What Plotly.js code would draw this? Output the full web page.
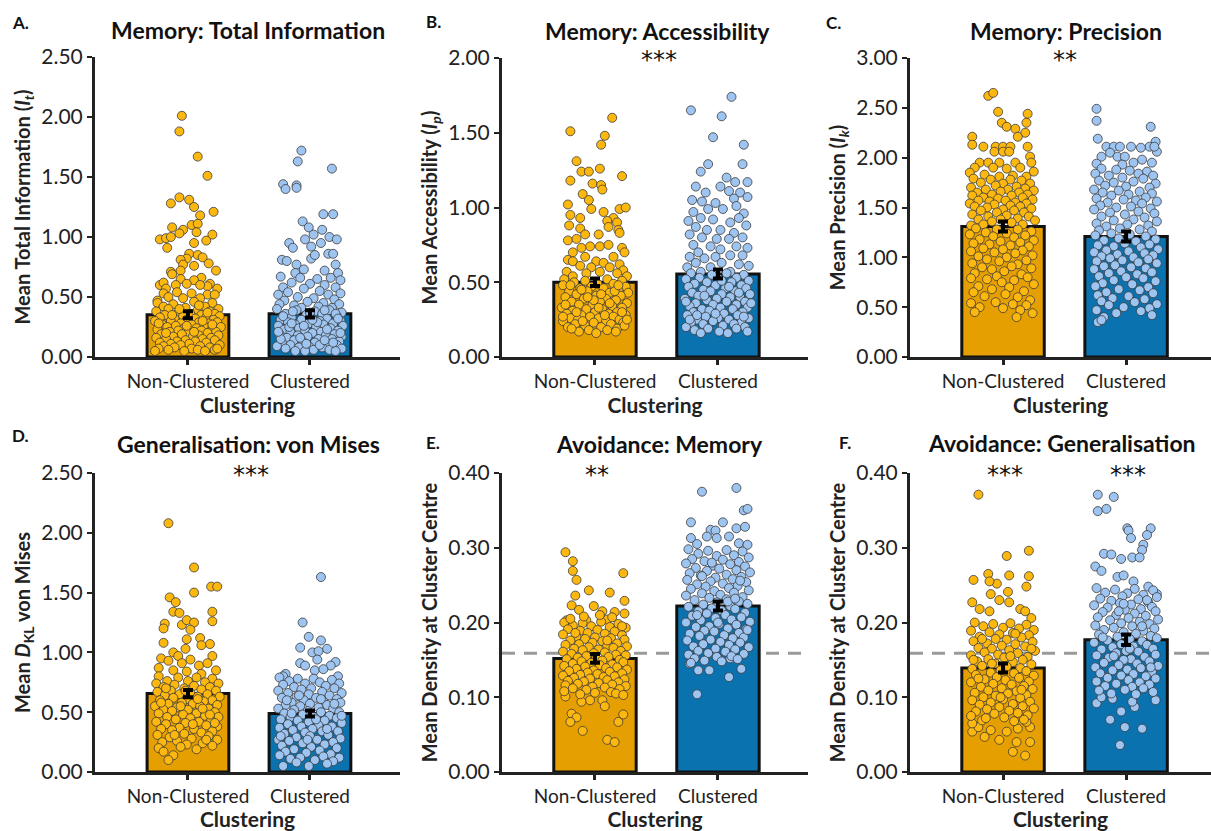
<!DOCTYPE html>
<html>
<head>
<meta charset="utf-8">
<script src="https://cdn.plot.ly/plotly-3.0.1.min.js"></script>
<style>html,body{margin:0;padding:0;background:#fff;}#chart{width:1211px;height:831px;}</style>
</head>
<body>
<div id="chart"></div>
<script>
// ---------------- DATA ----------------
const categories = ['Non-Clustered', 'Clustered'];

// bar means and standard errors per panel [Non-Clustered, Clustered]
const meansA = [0.352, 0.360], seA = [0.030, 0.030];
const meansB = [0.500, 0.555], seB = [0.025, 0.030];
const meansC = [1.310, 1.210], seC = [0.050, 0.050];
const meansD = [0.656, 0.490], seD = [0.030, 0.025];
const meansE = [0.152, 0.222], seE = [0.006, 0.006];
const meansF = [0.139, 0.177], seF = [0.006, 0.007];
const chanceLevel = 0.159;

// participant points: [jitter offset (category units), value]
const aNonPts = [[-0.05,2.01],[-0.07,1.88],[0.08,1.67],[0.16,1.51],[-0.07,1.33],[0.01,1.31],[-0.14,1.28],[0.05,1.25],[0.10,1.18],[0.21,1.21],[-0.13,1.08],[0.03,1.10],[0.08,1.11],[-0.04,1.06],[0.07,1.04],[-0.07,1.03],[0.20,1.02],[-0.23,0.98],[-0.18,0.99],[-0.14,1.00],[0.15,0.97],[-0.17,0.91],[0.05,0.95],[0.01,0.86],[0.08,0.85],[0.12,0.83],[-0.01,0.82],[-0.06,0.81],[-0.04,0.77],[0.05,0.76],[0.17,0.78],[0.23,0.72],[-0.14,0.71],[-0.06,0.72],[-0.13,0.69],[0.11,0.66],[0.05,0.64],[-0.06,0.65],[-0.23,0.60],[-0.20,0.62],[0.18,0.61],[0.16,0.59],[0.24,0.57],[-0.18,0.57],[-0.10,0.60],[-0.01,0.61],[0.10,0.60],[-0.20,0.53],[-0.09,0.54],[0.03,0.53],[0.16,0.52],[0.22,0.52],[-0.16,0.50],[-0.04,0.49],[0.10,0.49],[-0.25,0.47],
[-0.25,0.45],[-0.12,0.44],[0.05,0.46],[0.20,0.45],[-0.20,0.42],[0.14,0.42],[-0.02,0.41],[0.25,0.40],[-0.16,0.40],[0.08,0.39],[-0.26,0.38],[0.18,0.38],[-0.08,0.37],[0.02,0.36],[0.22,0.36],[-0.19,0.35],[0.11,0.35],[-0.04,0.34],[0.26,0.34],[-0.23,0.33],[0.15,0.33],[-0.11,0.32],[0.06,0.32],[-0.01,0.31],[0.21,0.31],[-0.27,0.30],[-0.14,0.30],[0.09,0.29],[0.24,0.29],[-0.06,0.28],[0.17,0.28],[-0.21,0.27],[0.03,0.27],[-0.10,0.26],[0.13,0.26],[0.27,0.25],[-0.17,0.25],[-0.03,0.24],[0.07,0.24],[0.20,0.23],[-0.25,0.23],[-0.08,0.22],[0.11,0.22],[0.23,0.21],[-0.15,0.21],[0.00,0.20],[0.16,0.20],[-0.22,0.19],[-0.05,0.19],[0.09,0.18],[0.25,0.18],[-0.12,0.17],[0.04,0.17],[0.19,0.16],[-0.26,0.16],[-0.18,0.15],[0.12,0.15],[-0.02,0.14],[0.22,0.14],[-0.09,0.13],[0.06,0.13],[-0.23,0.12],[0.15,0.12],[-0.14,0.11],[0.01,0.11],[0.26,0.10],[-0.06,0.10],[0.10,0.09],[-0.20,0.09],[0.18,0.08],[-0.11,0.08],[0.03,0.07],[-0.24,0.07],[0.22,0.06],[-0.16,0.06],[0.08,0.06],[-0.03,0.05],[0.14,0.05],[-0.27,0.05],[0.24,0.07],[-0.07,0.40],[0.12,0.30],[-0.18,0.20],[0.05,0.21],[-0.01,0.26],[0.20,0.27],[-0.13,0.35],[0.16,0.37],[-0.24,0.28],[0.09,0.43]];
const aCluPts = [[-0.07,1.72],[-0.10,1.63],[0.18,1.57],[-0.22,1.44],[-0.20,1.40],[-0.11,1.43],[-0.11,1.41],[0.11,1.19],[0.19,1.19],[-0.06,1.13],[-0.01,1.08],[0.10,1.06],[0.03,1.02],[0.16,1.00],[0.22,0.98],[-0.17,0.95],[-0.04,0.98],[-0.14,0.91],[0.01,0.92],[0.09,0.95],[-0.23,0.81],[-0.19,0.80],[-0.11,0.77],[0.01,0.82],[0.04,0.85],[0.15,0.86],[0.19,0.86],[0.21,0.77],[-0.05,0.73],[0.12,0.72],[0.23,0.70],[-0.12,0.70],
[-0.24,0.67],[-0.08,0.66],[0.06,0.65],[0.17,0.66],[0.25,0.64],[-0.15,0.62],[0.00,0.61],[0.12,0.60],[-0.22,0.58],[0.21,0.58],[-0.05,0.57],[0.08,0.55],[-0.18,0.54],[0.25,0.53],[-0.26,0.52],[0.15,0.52],[-0.10,0.50],[0.03,0.49],[0.20,0.48],[-0.21,0.47],[-0.02,0.46],[0.11,0.45],[-0.25,0.44],[0.24,0.44],[-0.13,0.43],[0.07,0.42],[0.18,0.41],[-0.07,0.41],
[-0.27,0.40],[-0.11,0.39],[0.04,0.38],[0.16,0.39],[0.26,0.37],[-0.20,0.36],[-0.03,0.35],[0.10,0.36],[0.22,0.34],[-0.15,0.33],[0.01,0.33],[0.14,0.32],[-0.24,0.31],[-0.07,0.31],[0.08,0.30],[0.25,0.30],[-0.18,0.29],[0.19,0.28],[-0.01,0.28],[-0.12,0.27],[0.11,0.27],[0.27,0.26],[-0.26,0.26],[0.05,0.25],[-0.09,0.24],[0.17,0.24],[-0.21,0.23],[0.23,0.22],[-0.04,0.22],[0.09,0.21],[-0.16,0.21],[0.02,0.20],[0.20,0.19],[-0.25,0.19],[-0.10,0.18],[0.13,0.18],[0.26,0.17],[-0.02,0.17],[-0.19,0.16],[0.07,0.15],[0.18,0.15],[-0.13,0.14],[0.24,0.13],[-0.06,0.13],[-0.23,0.12],[0.04,0.12],[0.15,0.11],[-0.16,0.10],[0.22,0.10],[-0.01,0.09],[-0.27,0.09],[0.10,0.08],[-0.09,0.08],[0.26,0.07],[-0.20,0.07],[0.03,0.06],[0.16,0.06],[-0.12,0.05],[0.21,0.05],[-0.04,0.05],[0.12,0.39],[-0.14,0.38],[0.00,0.37],[0.21,0.36],[-0.22,0.34],[0.06,0.29],[-0.05,0.26],[0.14,0.23],[-0.17,0.25],[0.25,0.20],[-0.08,0.16],[0.19,0.12],[-0.24,0.15],[0.08,0.10],[-0.15,0.28],[0.02,0.31],[0.23,0.32],[-0.26,0.21],[0.12,0.14],[-0.03,0.11]];

const bNonPts = [[0.14,1.60],[-0.20,1.51],[0.08,1.48],[0.05,1.42],[-0.15,1.31],[0.04,1.26],[-0.11,1.24],[-0.05,1.24],[0.22,1.21],[-0.20,1.18],[-0.02,1.16],[0.05,1.15],[0.06,1.12],[-0.10,1.09],[-0.05,1.05],[-0.22,1.02],[-0.03,0.99],[0.07,0.97],[0.20,0.99],[0.25,1.00],[-0.20,0.95],[-0.12,0.93],[0.15,0.93],[0.10,0.91],[0.18,0.90],[-0.21,0.88],[0.11,0.87],[-0.12,0.86],[0.19,0.85],[0.20,0.83],[0.03,0.82],[-0.08,0.82],[-0.22,0.78],[-0.15,0.79],[-0.04,0.74],[0.04,0.74],[0.11,0.75],[0.22,0.73],[-0.11,0.73],[-0.18,0.70],[0.24,0.70],[-0.08,0.67],[0.15,0.67],[-0.22,0.65],[-0.18,0.64],[0.01,0.64],[0.07,0.63],[0.20,0.62],[-0.12,0.61],[-0.03,0.60],[0.12,0.60],[0.23,0.58],[-0.23,0.57],[-0.07,0.56],[0.04,0.57],[0.18,0.56],[-0.18,0.54],[0.26,0.54],
[-0.25,0.52],[-0.08,0.51],[0.10,0.52],[0.22,0.51],[-0.17,0.50],[0.02,0.49],[0.15,0.49],[-0.26,0.48],[-0.03,0.47],[0.25,0.47],[-0.12,0.46],[0.07,0.46],[0.19,0.45],[-0.21,0.44],[-0.06,0.44],[0.12,0.43],[0.27,0.43],[-0.15,0.42],[0.01,0.41],[0.21,0.41],[-0.24,0.40],[-0.09,0.39],[0.09,0.39],[0.17,0.38],[-0.19,0.37],[0.04,0.37],[0.26,0.36],[-0.02,0.35],[-0.13,0.35],[0.14,0.34],[-0.27,0.33],[0.22,0.33],[-0.07,0.32],[0.06,0.32],[-0.18,0.31],[0.18,0.30],[0.00,0.30],[-0.23,0.29],[0.11,0.29],[0.25,0.28],[-0.11,0.28],[-0.04,0.27],[0.15,0.27],[-0.20,0.26],[0.03,0.26],[0.20,0.25],[-0.14,0.25],[-0.26,0.24],[0.09,0.24],[-0.01,0.23],[0.23,0.23],[-0.16,0.22],[0.13,0.22],[-0.08,0.21],[0.05,0.20],[-0.22,0.20],[0.18,0.19],[-0.05,0.18],[0.10,0.18],[-0.13,0.17],[0.24,0.21],[-0.19,0.19],[0.01,0.16],[0.17,0.17],[-0.10,0.24],[0.08,0.28],[-0.24,0.35],[0.16,0.44],[-0.01,0.38],[0.22,0.30],[-0.15,0.30],[0.05,0.42],[-0.20,0.48],[0.12,0.36],[-0.06,0.40],[0.26,0.25],[-0.26,0.27],[0.03,0.33],[0.19,0.48],[-0.11,0.45]];
const bCluPts = [[0.11,1.74],[-0.22,1.65],[0.03,1.61],[-0.04,1.47],[0.21,1.42],[-0.08,1.29],[0.20,1.29],[-0.14,1.24],[0.07,1.20],[0.24,1.17],[0.14,1.17],[-0.18,1.14],[-0.10,1.10],[0.02,1.14],[0.09,1.11],[0.18,1.10],[-0.21,1.05],[-0.13,1.04],[-0.02,1.03],[0.13,1.06],[0.24,1.07],[0.15,1.01],[-0.20,0.97],[-0.08,0.99],[0.04,0.99],[-0.14,0.93],[-0.04,0.92],[0.21,0.96],[-0.24,0.91],[0.10,0.90],[0.17,0.93],[-0.18,0.87],[-0.09,0.85],[0.02,0.85],[0.23,0.88],[0.13,0.83],[-0.23,0.82],[-0.13,0.80],[-0.01,0.79],[0.09,0.79],[0.20,0.80],[-0.20,0.75],[-0.06,0.74],[0.15,0.74],[0.24,0.73],[-0.16,0.70],[0.02,0.72],[-0.23,0.67],[-0.11,0.66],[-0.02,0.67],[0.10,0.68],[0.20,0.68],[-0.18,0.63],[0.03,0.63],[0.17,0.62],[0.25,0.61],[-0.25,0.60],[-0.06,0.60],[-0.14,0.57],[0.10,0.57],
[-0.22,0.56],[-0.05,0.55],[0.07,0.56],[0.21,0.55],[-0.15,0.53],[0.15,0.53],[-0.26,0.52],[0.01,0.52],[0.25,0.51],[-0.09,0.50],[0.11,0.50],[-0.19,0.49],[0.19,0.48],[-0.02,0.48],[-0.24,0.47],[0.06,0.46],[0.23,0.46],[-0.12,0.45],[0.14,0.44],[-0.06,0.44],[-0.21,0.43],[0.03,0.42],[0.26,0.42],[-0.16,0.41],[0.10,0.40],[0.18,0.40],[-0.01,0.39],[-0.27,0.39],[-0.09,0.38],[0.22,0.37],[0.07,0.37],[-0.18,0.36],[0.15,0.35],[-0.04,0.35],[-0.23,0.34],[0.02,0.33],[0.24,0.33],[-0.13,0.32],[0.12,0.32],[-0.07,0.31],[0.20,0.30],[-0.20,0.30],[0.05,0.29],[-0.25,0.28],[0.16,0.28],[-0.10,0.27],[0.00,0.26],[0.25,0.26],[-0.17,0.25],[0.09,0.25],[-0.04,0.24],[0.19,0.23],[-0.22,0.23],[0.13,0.22],[-0.12,0.22],[0.04,0.21],[-0.26,0.20],[0.22,0.20],[-0.08,0.19],[0.15,0.19],[-0.19,0.18],[0.01,0.17],[0.24,0.17],[-0.14,0.16],[0.08,0.16],[-0.23,0.25],[0.27,0.36],[-0.02,0.29],[0.17,0.43],[-0.11,0.41],[0.09,0.47],[-0.26,0.37],[0.03,0.51],[-0.17,0.28],[0.21,0.27]];

const cNonPts = [[-0.12,2.62],[-0.08,2.65],[-0.04,2.46],[0.20,2.44],[-0.01,2.35],[0.19,2.35],[0.03,2.31],[0.10,2.29],[0.18,2.25],[-0.25,2.21],[0.12,2.21],[-0.25,2.13],[-0.16,2.11],[-0.06,2.11],[0.00,2.11],[0.06,2.11],[0.20,2.11],[-0.07,2.06],[0.00,2.06],[0.05,2.06],[0.22,2.01],[0.23,1.95],[-0.19,1.95],[-0.12,1.95],[-0.03,1.95],[0.10,1.95],[-0.23,1.90],[-0.08,1.90],[0.03,1.89],[0.14,1.90],[0.25,1.86],[-0.27,1.85],[-0.15,1.83],[-0.03,1.81],[0.08,1.82],[0.19,1.81],
[-0.24,1.79],[-0.10,1.78],[0.06,1.78],[0.15,1.77],[-0.18,1.75],[0.00,1.74],[0.22,1.74],[-0.06,1.72],[0.11,1.71],[-0.26,1.70],[0.18,1.69],[-0.14,1.68],[0.04,1.68],[0.25,1.67],[-0.02,1.66],[-0.21,1.65],[0.13,1.65],[-0.09,1.63],[0.20,1.63],[-0.25,1.62],[0.07,1.62],[-0.16,1.60],[0.16,1.60],[-0.04,1.59],[0.24,1.58],[-0.20,1.57],[0.02,1.57],[-0.11,1.56],[0.10,1.55],[-0.27,1.54],[0.19,1.54],[-0.07,1.53],[0.06,1.52],[-0.23,1.51],[0.14,1.51],[-0.13,1.50],[0.23,1.49],[0.00,1.48],[-0.18,1.47],[0.09,1.47],[-0.05,1.45],[0.17,1.45],[-0.25,1.43],[0.03,1.42],[-0.12,1.41],[0.21,1.41],[0.12,1.39],[-0.20,1.38],[-0.02,1.38],[0.26,1.37],[-0.09,1.36],[0.07,1.35],[-0.16,1.33],[0.16,1.33],[-0.26,1.32],
[-0.22,1.29],[-0.05,1.28],[0.12,1.28],[0.23,1.26],[-0.14,1.25],[0.03,1.24],[-0.27,1.23],[0.18,1.22],[-0.08,1.21],[0.09,1.20],[-0.19,1.18],[0.25,1.17],[-0.02,1.16],[0.14,1.15],[-0.24,1.14],[-0.11,1.13],[0.06,1.12],[0.21,1.11],[-0.16,1.09],[0.00,1.08],[0.16,1.07],[-0.26,1.06],[-0.07,1.05],[0.10,1.04],[0.24,1.02],[-0.20,1.01],[0.03,1.00],[-0.13,0.98],[0.19,0.97],[-0.03,0.96],[-0.25,0.94],[0.12,0.93],[0.07,0.91],[-0.17,0.90],[0.23,0.89],[-0.09,0.88],[0.01,0.86],[-0.23,0.84],[0.15,0.83],[-0.05,0.81],[0.20,0.80],[-0.26,0.79],[-0.13,0.78],[0.09,0.77],[-0.01,0.75],[0.25,0.73],[-0.20,0.71],[0.05,0.70],[-0.09,0.68],[0.17,0.66],[-0.24,0.65],[0.02,0.63],[-0.15,0.61],[0.12,0.60],[0.22,0.57],[-0.06,0.55],[-0.26,0.54],[0.08,0.53],[0.19,0.52],[-0.19,0.50],[0.00,0.49],[0.14,0.47],[-0.23,0.45],[0.24,0.44],[0.11,0.40]];
const cCluPts = [[-0.24,2.49],[-0.24,2.37],[0.20,2.31],[-0.23,2.19],[0.24,2.16],[0.25,2.06],[-0.16,2.11],[-0.10,2.11],[-0.05,2.11],[0.04,2.11],[0.19,2.11],[0.23,2.11],[0.12,2.10],[-0.20,2.01],[-0.13,2.05],[-0.07,2.01],[-0.01,2.01],[0.13,1.98],[0.21,1.95],[-0.24,1.94],[-0.03,1.93],[0.06,1.95],
[-0.20,1.89],[-0.08,1.88],[0.03,1.87],[0.17,1.86],[-0.25,1.84],[0.10,1.84],[-0.14,1.82],[0.22,1.82],[-0.03,1.80],[0.14,1.79],[-0.22,1.77],[0.06,1.76],[-0.10,1.75],[0.24,1.74],[-0.17,1.72],[0.00,1.71],[0.19,1.70],[-0.26,1.68],[-0.06,1.67],[0.11,1.66],[-0.19,1.65],[0.21,1.64],[0.02,1.63],[-0.12,1.62],[0.16,1.60],[-0.24,1.59],[-0.02,1.58],[0.08,1.57],[0.25,1.56],[-0.15,1.55],[0.13,1.54],[-0.21,1.52],[0.04,1.51],[-0.08,1.50],[0.20,1.49],[-0.26,1.48],[0.10,1.46],[-0.13,1.45],[0.23,1.44],[-0.01,1.43],[-0.20,1.41],[0.15,1.40],[0.06,1.38],[-0.10,1.37],[0.25,1.36],[-0.24,1.34],[0.01,1.33],[0.18,1.32],[-0.16,1.31],[-0.05,1.29],[0.11,1.28],[-0.22,1.27],[0.21,1.26],
[-0.12,1.24],[0.03,1.23],[-0.25,1.22],[0.16,1.21],[-0.06,1.19],[0.24,1.18],[-0.18,1.17],[0.08,1.16],[-0.01,1.14],[0.19,1.13],[-0.23,1.12],[-0.10,1.11],[0.12,1.10],[0.26,1.08],[-0.16,1.07],[0.02,1.06],[-0.26,1.05],[0.15,1.04],[-0.07,1.03],[0.22,1.02],[-0.20,1.01],[0.06,1.00],[-0.13,0.99],[0.18,0.98],[-0.03,0.97],[-0.24,0.96],[0.10,0.95],[0.25,0.94],[-0.09,0.92],[-0.18,0.91],[0.04,0.90],[0.16,0.89],[-0.26,0.88],[-0.04,0.86],[0.21,0.85],[-0.14,0.84],[0.09,0.83],[-0.22,0.81],[0.00,0.80],[0.14,0.79],[-0.10,0.77],[0.24,0.76],[-0.19,0.74],[0.05,0.73],[-0.25,0.71],[0.18,0.70],[-0.06,0.68],[0.11,0.67],[-0.16,0.65],[0.22,0.64],[-0.23,0.62],[0.02,0.61],[-0.11,0.59],[0.15,0.58],[-0.20,0.56],[0.07,0.55],[0.25,0.53],[-0.14,0.52],[-0.02,0.50],[0.19,0.49],[-0.24,0.47],[0.12,0.46],[-0.08,0.44],[0.21,0.42],[-0.18,0.40],[-0.23,0.35],[-0.20,0.37]];

const dNonPts = [[-0.16,2.08],[0.05,1.71],[0.05,1.50],[0.19,1.55],[0.24,1.55],[-0.15,1.46],[-0.10,1.42],[-0.12,1.34],[-0.07,1.33],[0.20,1.34],[0.20,1.26],[-0.19,1.24],[-0.05,1.23],[-0.01,1.27],[0.05,1.25],[-0.20,1.20],[0.02,1.19],[-0.01,1.11],[0.10,1.12],[0.18,1.07],[-0.20,1.08],[0.11,1.06],[-0.02,1.03],[-0.12,1.00],[-0.22,0.95],[-0.08,0.97],[0.02,0.94],[0.20,0.97],[-0.16,0.93],[-0.05,0.91],[0.09,0.89],[0.16,0.91],[0.23,0.85],[-0.24,0.87],[-0.12,0.85],[-0.01,0.84],[0.11,0.82],
[-0.24,0.80],[-0.08,0.79],[0.07,0.79],[0.20,0.78],[-0.17,0.76],[0.00,0.76],[0.14,0.75],[-0.26,0.74],[0.25,0.74],[-0.11,0.73],[0.05,0.72],[-0.20,0.71],[0.18,0.71],[-0.03,0.70],[0.11,0.69],[-0.14,0.68],[0.23,0.68],[-0.25,0.67],[0.02,0.66],[-0.07,0.65],[0.16,0.65],[-0.19,0.64],[0.08,0.63],[0.26,0.63],[-0.12,0.62],[-0.01,0.61],[0.20,0.60],[-0.23,0.60],[0.13,0.59],[-0.05,0.58],[-0.16,0.57],[0.04,0.57],[0.24,0.56],[-0.27,0.55],[0.10,0.55],[-0.09,0.54],[0.17,0.53],[-0.20,0.52],[0.00,0.52],[-0.13,0.51],[0.22,0.50],[0.07,0.49],[-0.24,0.49],[-0.04,0.48],[0.14,0.47],[-0.17,0.46],[0.25,0.46],[0.02,0.45],[-0.10,0.44],[0.19,0.43],[-0.26,0.42],[0.09,0.42],[-0.02,0.41],[-0.18,0.40],[0.15,0.39],[0.24,0.38],[-0.07,0.37],[0.05,0.36],[-0.22,0.36],[-0.13,0.35],[0.20,0.34],[0.11,0.33],[-0.03,0.32],[-0.25,0.31],[0.17,0.30],[-0.15,0.29],[0.03,0.28],[0.24,0.27],[-0.09,0.26],[-0.21,0.25],[0.12,0.24],[-0.01,0.23],[0.20,0.22],[-0.06,0.21],[-0.24,0.20],[0.07,0.19],[-0.20,0.17],[0.15,0.27],[-0.12,0.14],[-0.16,0.10],[0.08,0.61],[-0.06,0.55],[0.18,0.48],[-0.22,0.58],[0.04,0.40],[-0.11,0.31],[0.22,0.41],[-0.02,0.68],[0.12,0.53],[-0.18,0.70]];
const dCluPts = [[0.09,1.63],[-0.06,1.25],[-0.01,1.13],[-0.08,1.04],[0.09,1.10],[0.14,1.03],[0.02,1.00],[0.07,1.01],[0.06,0.94],[-0.08,0.91],[-0.04,0.89],[0.21,0.92],[0.17,0.89],[0.04,0.85],[0.11,0.86],[-0.20,0.82],[-0.22,0.80],[0.23,0.80],
[-0.25,0.79],[-0.10,0.78],[0.03,0.78],[0.18,0.77],[-0.17,0.76],[0.08,0.75],[-0.04,0.74],[0.24,0.74],[-0.22,0.73],[0.13,0.72],[-0.13,0.71],[0.01,0.70],[0.20,0.70],[-0.07,0.69],[-0.26,0.68],[0.10,0.67],[0.26,0.66],[-0.18,0.66],[-0.01,0.65],[0.16,0.64],[-0.11,0.63],[0.05,0.62],[-0.23,0.62],[0.22,0.61],[-0.05,0.60],[0.11,0.59],[-0.15,0.58],[0.25,0.58],[0.00,0.57],[-0.20,0.56],[0.14,0.56],[-0.08,0.55],[0.07,0.54],[-0.26,0.53],[0.19,0.53],[-0.13,0.52],[-0.02,0.51],[0.24,0.50],[0.09,0.50],[-0.21,0.49],[-0.06,0.48],[0.16,0.47],[-0.16,0.46],[0.03,0.46],[0.22,0.45],[-0.24,0.44],[-0.10,0.43],[0.12,0.43],[-0.01,0.42],[0.26,0.41],[-0.18,0.40],[0.07,0.39],[-0.07,0.38],[0.18,0.38],[-0.25,0.37],[0.02,0.36],[-0.14,0.35],[0.23,0.34],[0.10,0.34],[-0.04,0.33],[-0.21,0.32],[0.15,0.31],[0.00,0.30],[-0.11,0.29],[0.25,0.28],[-0.26,0.27],[0.06,0.27],[-0.17,0.26],[0.19,0.25],[-0.06,0.24],[0.12,0.23],[-0.23,0.22],[0.01,0.21],[0.22,0.20],[-0.13,0.19],[0.08,0.18],[-0.20,0.17],[-0.03,0.16],[0.17,0.15],[-0.25,0.14],[0.11,0.13],[-0.08,0.12],[0.24,0.12],[-0.16,0.11],[0.04,0.10],[0.19,0.09],[-0.11,0.08],[0.14,0.07],[-0.22,0.05],[-0.01,0.05],[0.05,0.44],[-0.19,0.60],[0.20,0.57],[-0.09,0.64],[0.14,0.36],[-0.02,0.27],[-0.24,0.30],[0.09,0.61],[-0.15,0.49],[0.26,0.47]];

const eNonPts = [[-0.24,0.294],[-0.18,0.282],[-0.18,0.269],[-0.15,0.257],[0.23,0.266],[-0.05,0.243],[0.12,0.240],[-0.16,0.236],[0.24,0.229],[-0.19,0.223],[-0.01,0.222],[0.06,0.215],[-0.13,0.217],[0.24,0.212],[0.16,0.214],[-0.23,0.203],[-0.07,0.203],[0.10,0.204],
[-0.19,0.078],[-0.15,0.073],[-0.20,0.067],[-0.10,0.055],[0.10,0.043],[0.16,0.040],[0.19,0.067],[0.23,0.077],[0.06,0.096],[0.08,0.088],[-0.04,0.096],[-0.11,0.094],[-0.24,0.101],
[-0.25,0.200],[-0.10,0.199],[0.05,0.201],[0.19,0.198],[-0.18,0.196],[-0.03,0.195],[0.12,0.194],[0.25,0.193],[-0.22,0.191],[0.02,0.190],[-0.12,0.189],[0.16,0.188],[-0.06,0.186],[0.08,0.185],[-0.26,0.184],[0.22,0.183],[-0.15,0.181],[0.00,0.180],[0.13,0.179],[-0.08,0.178],[0.24,0.177],[-0.20,0.176],[0.06,0.175],[-0.02,0.173],[0.18,0.172],[-0.13,0.171],[-0.24,0.170],[0.10,0.169],[0.26,0.168],[-0.05,0.167],[0.15,0.166],[-0.17,0.165],[0.03,0.164],[-0.10,0.163],[0.21,0.162],[-0.26,0.161],[0.08,0.160],[-0.01,0.159],[-0.19,0.158],[0.17,0.157],[0.25,0.156],[-0.07,0.155],[0.11,0.154],[-0.14,0.153],[0.01,0.152],[-0.23,0.151],[0.20,0.150],[0.06,0.149],[-0.11,0.148],[0.23,0.147],[-0.03,0.146],[-0.18,0.145],[0.14,0.144],[0.04,0.143],[-0.25,0.142],[-0.08,0.141],[0.18,0.140],[0.09,0.139],[-0.15,0.138],[0.26,0.137],[-0.01,0.136],[-0.21,0.135],[0.12,0.134],[-0.06,0.133],[0.22,0.132],[0.02,0.131],[-0.12,0.130],[-0.26,0.129],[0.16,0.128],[0.07,0.127],[-0.17,0.126],[-0.04,0.125],[0.24,0.124],[0.10,0.123],[-0.22,0.122],[-0.09,0.121],[0.19,0.120],[0.03,0.119],[-0.14,0.118],[0.14,0.117],[-0.24,0.116],[0.25,0.115],[-0.02,0.114],[0.08,0.113],[-0.18,0.112],[0.20,0.111],[-0.07,0.110],[-0.25,0.108],[0.13,0.107],[0.00,0.106],[0.17,0.105],[-0.12,0.104],[0.23,0.103],[-0.20,0.205],[0.14,0.207],[-0.09,0.208],[0.04,0.210],[0.22,0.195],[-0.16,0.186],[0.10,0.176]];
const eCluPts = [[-0.13,0.375],[0.15,0.380],[0.21,0.350],[0.24,0.352],[-0.22,0.334],[0.04,0.334],[0.15,0.326],[-0.06,0.324],[-0.02,0.323],[0.22,0.328],[-0.09,0.315],[-0.01,0.313],[0.09,0.315],[-0.22,0.313],[-0.17,0.305],[0.17,0.306],[0.24,0.304],
[0.09,0.127],[-0.17,0.104],[0.19,0.138],[-0.07,0.136],[0.10,0.152],[-0.23,0.145],[-0.16,0.136],
[-0.24,0.298],[-0.08,0.296],[0.07,0.297],[0.20,0.295],[-0.16,0.292],[0.13,0.290],[-0.01,0.289],[0.25,0.287],[-0.21,0.285],[0.04,0.284],[-0.11,0.282],[0.17,0.281],[-0.26,0.279],[0.10,0.278],[-0.04,0.276],[0.22,0.275],[-0.18,0.273],[0.01,0.272],[0.15,0.270],[-0.09,0.269],[0.26,0.267],[-0.23,0.266],[0.07,0.264],[-0.14,0.263],[0.19,0.261],[-0.02,0.260],[0.12,0.258],[-0.25,0.257],[-0.06,0.255],[0.23,0.254],[0.04,0.252],[-0.17,0.251],[0.16,0.249],[-0.10,0.248],[0.09,0.246],[-0.22,0.245],[0.25,0.243],[-0.03,0.242],[0.13,0.240],[-0.13,0.239],[0.02,0.237],[-0.26,0.236],[0.20,0.234],[-0.07,0.233],[0.07,0.231],[-0.19,0.230],[0.17,0.228],[-0.01,0.227],[0.24,0.225],[-0.12,0.224],[0.10,0.222],[-0.24,0.221],[-0.05,0.219],[0.14,0.218],[0.03,0.216],[-0.16,0.215],[0.22,0.213],[-0.09,0.212],[0.06,0.210],[-0.21,0.209],[0.19,0.207],[-0.02,0.206],[0.11,0.204],[-0.14,0.203],[0.26,0.201],[-0.26,0.200],[0.01,0.198],[0.15,0.197],[-0.07,0.195],[-0.18,0.194],[0.08,0.192],[0.23,0.191],[-0.11,0.189],[-0.03,0.188],[0.17,0.186],[-0.23,0.185],[0.05,0.183],[-0.15,0.182],[0.21,0.180],[0.12,0.179],[-0.06,0.177],[-0.25,0.176],[0.02,0.174],[0.18,0.173],[-0.12,0.171],[0.09,0.170],[-0.20,0.168],[0.25,0.167],[-0.02,0.165],[0.14,0.164],[-0.16,0.162],[0.06,0.161],[-0.08,0.159],[0.21,0.158],[-0.24,0.157],[0.11,0.155],[-0.01,0.154],[-0.19,0.152],[0.16,0.151],[-0.11,0.149],[0.03,0.148],[-0.22,0.146],[0.08,0.228],[-0.13,0.262],[0.18,0.256],[-0.05,0.280],[0.00,0.200],[-0.17,0.210],[0.14,0.232],[0.24,0.190]];

const fNonPts = [[-0.20,0.371],[0.03,0.289],[0.21,0.296],[0.05,0.263],[0.21,0.262],[-0.12,0.265],[-0.24,0.257],[0.19,0.248],[-0.05,0.252],[-0.11,0.255],[-0.10,0.238],[0.04,0.241],[-0.25,0.227],[-0.03,0.230],[0.05,0.227],[0.14,0.218],[-0.19,0.218],[0.18,0.215],[-0.11,0.215],[0.23,0.206],
[0.08,0.027],[0.18,0.022],[0.11,0.040],[0.22,0.040],[-0.03,0.043],[-0.15,0.047],[-0.25,0.054],[-0.20,0.060],[0.12,0.058],[0.22,0.060],[0.19,0.067],[-0.10,0.056],[0.03,0.054],[-0.25,0.065],[-0.17,0.069],
[-0.23,0.200],[-0.08,0.198],[0.06,0.199],[0.19,0.197],[-0.16,0.195],[0.00,0.193],[0.13,0.192],[0.25,0.190],[-0.26,0.189],[-0.11,0.187],[0.08,0.186],[-0.03,0.184],[0.21,0.183],[-0.19,0.181],[0.15,0.180],[-0.06,0.178],[0.03,0.177],[-0.24,0.175],[0.24,0.174],[-0.13,0.172],[0.10,0.171],[-0.01,0.169],[0.18,0.168],[-0.20,0.166],[-0.09,0.165],[0.05,0.163],[0.26,0.162],[-0.15,0.160],[0.12,0.159],[-0.04,0.157],[-0.26,0.156],[0.20,0.154],[0.01,0.153],[-0.12,0.151],[0.16,0.150],[-0.21,0.148],[0.08,0.147],[-0.06,0.145],[0.23,0.144],[-0.17,0.142],[0.03,0.141],[0.14,0.139],[-0.25,0.138],[-0.02,0.136],[0.19,0.135],[-0.10,0.133],[0.09,0.132],[-0.22,0.130],[0.25,0.129],[-0.05,0.127],[0.13,0.126],[-0.15,0.124],[0.02,0.123],[0.21,0.121],[-0.26,0.120],[-0.08,0.118],[0.07,0.117],[0.17,0.115],[-0.18,0.114],[-0.01,0.112],[0.24,0.111],[-0.12,0.109],[0.11,0.108],[-0.23,0.106],[0.04,0.105],[0.19,0.103],[-0.06,0.102],[-0.16,0.100],[0.14,0.099],[0.00,0.097],[-0.25,0.096],[0.22,0.094],[-0.10,0.093],[0.08,0.091],[-0.19,0.090],[0.16,0.088],[-0.03,0.087],[0.25,0.085],[-0.13,0.084],[0.05,0.082],[-0.22,0.081],[0.12,0.079],[-0.07,0.078],[0.20,0.076],[-0.26,0.075],[0.01,0.073],[-0.14,0.072],[0.17,0.070],[0.09,0.068],[-0.20,0.125],[0.06,0.155],[-0.09,0.145],[0.23,0.165],[-0.17,0.178],[0.15,0.110],[-0.02,0.100],[0.10,0.185],[-0.24,0.150]];
const fCluPts = [[-0.23,0.371],[-0.10,0.368],[-0.23,0.349],[-0.16,0.352],[0.01,0.326],[0.02,0.323],[0.20,0.326],[0.04,0.313],[0.17,0.317],[0.14,0.304],[0.13,0.297],[-0.18,0.292],[-0.12,0.291],[-0.04,0.285],[0.05,0.287],[0.11,0.287],[-0.25,0.275],[-0.20,0.269],[-0.07,0.261],[-0.02,0.263],[0.18,0.248],[0.25,0.238],[0.06,0.255],
[-0.05,0.036],[-0.01,0.060],[0.13,0.058],[-0.13,0.070],[-0.04,0.081],[-0.24,0.092],[0.07,0.087],[0.24,0.096],[0.05,0.094],[-0.20,0.100],[-0.11,0.098],
[-0.24,0.246],[-0.09,0.244],[0.07,0.245],[0.22,0.243],[-0.17,0.240],[0.01,0.239],[0.14,0.237],[-0.03,0.235],[0.25,0.234],[-0.21,0.232],[0.10,0.231],[-0.12,0.229],[0.18,0.227],[-0.05,0.226],[0.04,0.224],[-0.26,0.223],[0.21,0.221],[-0.15,0.220],[0.12,0.218],[-0.01,0.217],[0.24,0.215],[-0.19,0.214],[0.07,0.212],[-0.08,0.210],[0.16,0.209],[-0.23,0.207],[0.02,0.206],[0.26,0.204],[-0.13,0.203],[0.11,0.201],[-0.04,0.199],[0.19,0.198],[-0.25,0.196],[0.05,0.195],[-0.10,0.193],[0.23,0.192],[-0.18,0.190],[0.14,0.189],[-0.02,0.187],[0.08,0.185],[-0.22,0.184],[0.20,0.182],[-0.07,0.181],[0.25,0.179],[0.03,0.178],[-0.15,0.176],[0.13,0.175],[-0.26,0.173],[-0.04,0.171],[0.17,0.170],[0.06,0.168],[-0.11,0.167],[0.22,0.165],[-0.20,0.164],[0.00,0.162],[0.10,0.161],[-0.08,0.159],[0.24,0.157],[-0.24,0.156],[0.15,0.154],[-0.14,0.153],[0.04,0.151],[-0.02,0.150],[0.19,0.148],[-0.18,0.146],[0.09,0.145],[-0.06,0.143],[0.26,0.142],[-0.25,0.140],[0.12,0.139],[0.01,0.137],[-0.11,0.136],[0.21,0.134],[-0.21,0.132],[0.06,0.131],[-0.04,0.129],[0.16,0.128],[-0.15,0.126],[0.24,0.125],[0.02,0.123],[-0.24,0.121],[0.11,0.120],[-0.08,0.118],[0.19,0.117],[-0.17,0.115],[0.05,0.114],[0.14,0.112],[-0.01,0.110],[-0.22,0.109],[0.22,0.107],[-0.12,0.105],[0.08,0.104],[0.17,0.230],[-0.06,0.215],[0.13,0.195],[-0.19,0.180],[0.03,0.165],[-0.10,0.155],[0.20,0.140],[-0.02,0.225]];

// text
const panelTitles = ['Memory: Total Information', 'Memory: Accessibility', 'Memory: Precision',
                     'Generalisation: von Mises', 'Avoidance: Memory', 'Avoidance: Generalisation'];
const panelLetters = ['A.', 'B.', 'C.', 'D.', 'E.', 'F.'];
const yTitles = ['Mean Total Information (<i>I</i><sub><i>t</i></sub>)', 'Mean Accessibility (<i>I</i><sub><i>p</i></sub>)',
                 'Mean Precision (<i>I</i><sub><i>k</i></sub>)', 'Mean <i>D</i><sub>KL</sub> von Mises',
                 'Mean Density at Cluster Centre', 'Mean Density at Cluster Centre'];
const xTitle = 'Clustering';
const yMax = [2.5, 2.0, 3.0, 2.5, 0.4, 0.4];
const yStep = [0.5, 0.5, 0.5, 0.5, 0.1, 0.1];

// ---------------- LAYOUT HELPERS ----------------
const W = 1211, H = 831;
const px = v => v / W;
const py = v => 1 - v / H;
const FONT = 'Lato, "Open Sans", sans-serif';
const INK = '#222222';
const barColors = ['#E69F00', '#0B72B0'];
const ptColors = ['#FDB810', '#9EC5F1'];

const panels = [
  {means: meansA, se: seA, pts: [aNonPts, aCluPts], xd: [95, 400],  yd: [357, 57],  xr: [-0.762, 1.738]},
  {means: meansB, se: seB, pts: [bNonPts, bCluPts], xd: [502, 808], yd: [357, 58],  xr: [-0.756, 1.732]},
  {means: meansC, se: seC, pts: [cNonPts, cCluPts], xd: [910, 1211], yd: [357, 58], xr: [-0.756, 1.69]},
  {means: meansD, se: seD, pts: [dNonPts, dCluPts], xd: [95, 400],  yd: [772, 473], xr: [-0.762, 1.738]},
  {means: meansE, se: seE, pts: [eNonPts, eCluPts], xd: [502, 808], yd: [772, 473], xr: [-0.756, 1.732]},
  {means: meansF, se: seF, pts: [fNonPts, fCluPts], xd: [910, 1211], yd: [772, 473], xr: [-0.756, 1.69]}
];

const traces = [];
const layout = {
  width: W, height: H, margin: {l: 0, r: 0, t: 0, b: 0},
  paper_bgcolor: '#ffffff', plot_bgcolor: 'rgba(0,0,0,0)',
  showlegend: false, hovermode: false, font: {family: FONT, color: INK},
  annotations: [], shapes: []
};

panels.forEach((p, i) => {
  const n = i + 1;
  const xa = 'x' + (n === 1 ? '' : n), ya = 'y' + (n === 1 ? '' : n);
  const xk = 'xaxis' + (n === 1 ? '' : n), yk = 'yaxis' + (n === 1 ? '' : n);
  layout[xk] = {
    domain: [px(p.xd[0]), px(p.xd[1])], range: p.xr, anchor: ya,
    tickvals: [0, 1], ticktext: categories,
    showline: true, linewidth: 3, linecolor: INK, mirror: false,
    ticks: 'outside', ticklen: 5, tickwidth: 3, tickcolor: INK,
    tickfont: {size: 19, color: INK, family: FONT},
    showgrid: false, zeroline: false, fixedrange: true,
    title: {text: xTitle, font: {size: 21, color: INK, family: FONT, weight: 700}, standoff: 4}
  };
  layout[yk] = {
    domain: [py(p.yd[0]), py(p.yd[1])], range: [0, yMax[i]], anchor: xa,
    dtick: yStep[i], tick0: 0, tickformat: '.2f',
    showline: true, linewidth: 3, linecolor: INK,
    ticks: 'outside', ticklen: 5, tickwidth: 2, tickcolor: INK,
    tickfont: {size: 21, color: INK, family: FONT},
    showgrid: false, zeroline: false, fixedrange: true,
    title: {text: yTitles[i], font: {size: 20, color: INK, family: FONT, weight: 700}, standoff: 6}
  };

  // bars
  traces.push({
    type: 'bar', x: [0, 1], y: p.means, width: 0.67, xaxis: xa, yaxis: ya,
    marker: {color: barColors, line: {color: '#111111', width: 3}}
  });
  // individual points
  p.pts.forEach((set, c) => {
    traces.push({
      type: 'scatter', mode: 'markers', xaxis: xa, yaxis: ya, cliponaxis: false,
      x: set.map(d => c + d[0]), y: set.map(d => d[1]),
      marker: {size: 9, color: ptColors[c], line: {color: '#3a3a3a', width: 0.8}}
    });
  });
  // error bars (mean ± SE)
  traces.push({
    type: 'scatter', mode: 'markers', xaxis: xa, yaxis: ya, x: [0, 1], y: p.means,
    marker: {size: 1, color: '#000'},
    error_y: {type: 'data', array: p.se, visible: true, color: '#000000', thickness: 4, width: 5}
  });

  // panel title & letter
  const tPos = [[248, 30], [658, 31], [1066, 31], [248, 444], [659, 444], [1062, 443]][i];
  layout.annotations.push({
    text: '<b>' + panelTitles[i] + '</b>', xref: 'paper', yref: 'paper',
    x: px(tPos[0]), y: py(tPos[1]), xanchor: 'center', yanchor: 'middle', showarrow: false,
    font: {size: 23, color: '#111', family: FONT}
  });
  const lPos = [[20, 22], [433, 21], [833, 22], [20, 435], [433, 443], [845, 442]][i];
  layout.annotations.push({
    text: '<b>' + panelLetters[i] + '</b>', xref: 'paper', yref: 'paper',
    x: px(lPos[0]), y: py(lPos[1]), xanchor: 'center', yanchor: 'middle', showarrow: false,
    font: {size: 17, color: '#111', family: FONT}
  });
});

// significance stars
const stars = [[659, 60, '***'], [1065, 60, '**'], [251, 475, '***'], [597, 475, '**'], [1005, 475, '***'], [1128, 475, '***']];
stars.forEach(s => layout.annotations.push({
  text: s[2], xref: 'paper', yref: 'paper', x: px(s[0]), y: py(s[1]),
  xanchor: 'center', yanchor: 'middle', showarrow: false,
  font: {size: 24, color: '#111', family: '"DejaVu Sans", sans-serif'}
}));

// chance-level dashed lines in E and F
['x5', 'x6'].forEach((xr, k) => layout.shapes.push({
  type: 'line', xref: xr + ' domain', x0: 0, x1: 1, yref: ['y5', 'y6'][k], y0: chanceLevel, y1: chanceLevel,
  line: {color: '#9a9a9a', width: 3, dash: '13px,9px'}, layer: 'below'
}));

Plotly.newPlot('chart', traces, layout, {staticPlot: true, displayModeBar: false});
</script>
</body>
</html>
